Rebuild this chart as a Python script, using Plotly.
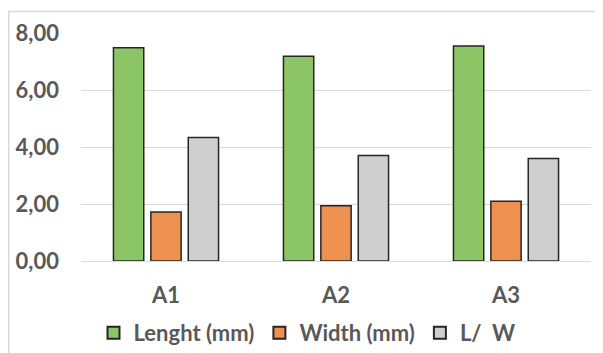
import plotly.graph_objects as go

categories = ["A1", "A2", "A3"]
length_mm = [7.48, 7.18, 7.54]
width_mm = [1.72, 1.94, 2.10]
l_over_w = [4.33, 3.70, 3.60]

series_names = ["Lenght (mm)", "Width (mm)", "L/  W"]
series_colors = ["#8cc566", "#ee9150", "#cfcfcf"]

fig = go.Figure()
for name, vals, col in zip(series_names, [length_mm, width_mm, l_over_w], series_colors):
    fig.add_trace(go.Bar(
        x=categories, y=vals, name=name,
        marker=dict(color=col, line=dict(color="#262626", width=1.5)),
    ))

font_fam = "Lato, 'Open Sans', sans-serif"
fsize = 22
# page body has an 8px margin, so the figure is offset by 8px
W, H = 595, 345
L, R, T, B = 73, 12, 25, 92
pw = W - L - R
ph = H - T - B

fig.update_layout(
    width=W, height=H,
    margin=dict(l=L, r=R, t=T, b=B, pad=0, autoexpand=False),
    paper_bgcolor="white", plot_bgcolor="white",
    separators=",.",
    barmode="group", bargap=0.34, bargroupgap=0.19,
    font=dict(family=font_fam, size=fsize, color="#595959", weight="bold"),
    showlegend=True,
    legend=dict(
        orientation="h", xref="container", yref="container",
        x=299 / W, xanchor="center",
        y=1 - 325 / H, yanchor="middle",
        font=dict(family=font_fam, size=fsize, color="#595959", weight="bold"),
        tracegroupgap=0, itemsizing="constant",
        bgcolor="rgba(0,0,0,0)",
    ),
    xaxis=dict(
        showgrid=False, showline=False, zeroline=False, ticks="",
        ticklabelstandoff=19,
        tickfont=dict(family=font_fam, size=fsize, color="#595959", weight="bold"),
    ),
    yaxis=dict(
        range=[0, 8], dtick=2, tickformat=".2f",
        showgrid=True, gridcolor="#d9d9d9", gridwidth=1,
        zeroline=True, zerolinecolor="#d9d9d9", zerolinewidth=1,
        showline=False, ticks="", ticklabelstandoff=21,
        tickfont=dict(family=font_fam, size=fsize, color="#595959", weight="bold"),
    ),
    shapes=[dict(
        type="rect", xref="paper", yref="paper", layer="below",
        x0=(0.75 - L) / pw, x1=(W + 5 - L) / pw,
        y0=(H - B - (H + 5)) / ph, y1=(H - B - 3.5) / ph,
        line=dict(color="#d9d9d9", width=1.5), fillcolor="rgba(0,0,0,0)",
    )],
)

fig.write_html("out.html")
